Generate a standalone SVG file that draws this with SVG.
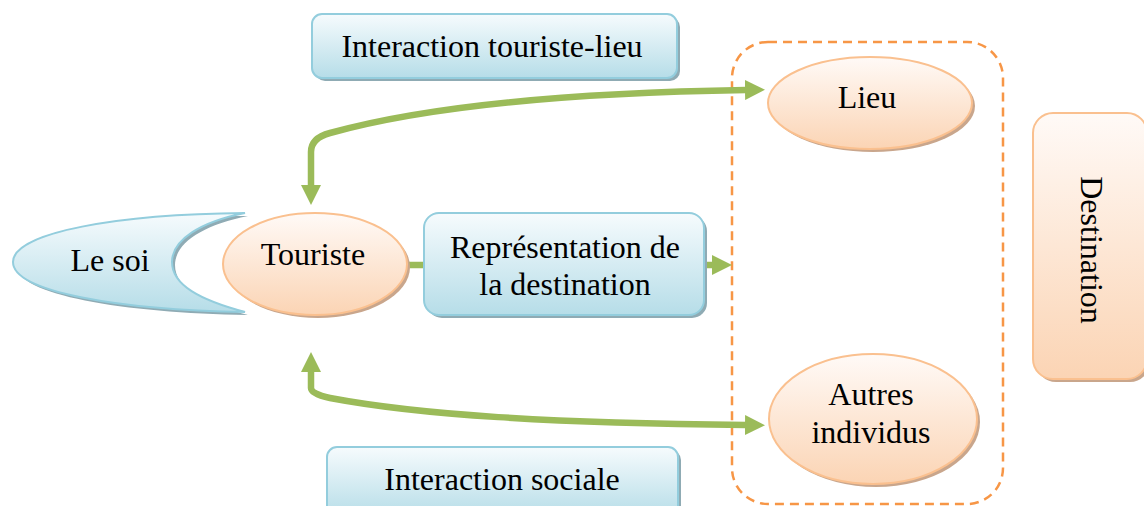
<svg xmlns="http://www.w3.org/2000/svg" width="1144" height="506" viewBox="0 0 1144 506">
<style>
.t{font-family:"Liberation Serif","Times New Roman",serif;font-size:32px;fill:#000;text-anchor:middle}
.bl{fill:url(#gb);stroke:#93CDDD;stroke-width:2}
.bs{fill:#8FABB4}
.or{fill:url(#go);stroke:#FAC08F;stroke-width:2}
.os{fill:#C9A68C}
.cn{fill:none;stroke:#9BBB59;stroke-width:6.5}
</style>
<defs>
<linearGradient id="gb" x1="0" y1="0" x2="0" y2="1"><stop offset="0" stop-color="#F6FBFD"/><stop offset="1" stop-color="#B6DDE8"/></linearGradient>
<linearGradient id="go" x1="0" y1="0" x2="0" y2="1"><stop offset="0" stop-color="#FFFAF7"/><stop offset="1" stop-color="#FBD4B4"/></linearGradient>
<marker id="ah" viewBox="0 0 20 20" refX="1" refY="10" markerWidth="20" markerHeight="20" markerUnits="userSpaceOnUse" orient="auto-start-reverse"><path d="M0,0 L20,10 L0,20 Z" fill="#9BBB59"/></marker>
</defs>

<g id="frame">
<rect x="732" y="42" width="271" height="462" rx="36" fill="none" stroke="#F79646" stroke-width="2.5" stroke-dasharray="9,6"/>
</g>

<g id="connectors">
<path class="cn" d="M311,186 L311,152 Q311,138 330,133 C420,108 550,93 746,90" marker-start="url(#ah)" marker-end="url(#ah)"/>
<path class="cn" d="M311,371 L311,388 Q311,394 330,398 C420,415 550,423 746,425" marker-start="url(#ah)" marker-end="url(#ah)"/>
<path class="cn" d="M400,265 L713,265" marker-end="url(#ah)"/>
</g>

<g id="n-interaction-lieu">
<rect class="bs" x="315" y="17" width="365" height="64" rx="10"/>
<rect class="bl" x="312" y="14" width="365" height="64" rx="10"/>
<text class="t" x="492" y="57">Interaction touriste-lieu</text>
</g>

<g id="n-soi">
<path class="bs" transform="translate(3,3)" d="M245,213 C120,214 13,232 13,262 C13,292 120,310 245,312 C200,300 172,285 172,262 C172,240 200,222 245,213 Z"/>
<path class="bl" d="M245,213 C120,214 13,232 13,262 C13,292 120,310 245,312 C200,300 172,285 172,262 C172,240 200,222 245,213 Z"/>
<text class="t" x="110" y="271">Le soi</text>
</g>

<g id="n-touriste">
<ellipse class="os" cx="318" cy="267" rx="92" ry="51"/>
<ellipse class="or" cx="315" cy="264" rx="92" ry="51"/>
<text class="t" x="313" y="265">Touriste</text>
</g>

<g id="n-representation">
<rect class="bs" x="427" y="216" width="280" height="102" rx="15"/>
<rect class="bl" x="424" y="213" width="280" height="102" rx="15"/>
<text class="t" x="565" y="258">Représentation de</text>
<text class="t" x="565" y="295">la destination</text>
</g>

<g id="n-lieu">
<ellipse class="os" cx="873" cy="106" rx="102" ry="46"/>
<ellipse class="or" cx="870" cy="103" rx="102" ry="46"/>
<text class="t" x="867" y="108">Lieu</text>
</g>

<g id="n-autres">
<ellipse class="os" cx="876" cy="422" rx="104" ry="65"/>
<ellipse class="or" cx="873" cy="419" rx="104" ry="65"/>
<text class="t" x="871" y="405">Autres</text>
<text class="t" x="871" y="443">individus</text>
</g>

<g id="n-destination">
<rect class="os" x="1036" y="116" width="114" height="266" rx="20"/>
<rect class="or" x="1033" y="113" width="114" height="266" rx="20"/>
<text class="t" transform="translate(1081,250) rotate(90)">Destination</text>
</g>

<g id="n-interaction-sociale">
<rect class="bs" x="330" y="450" width="351" height="70" rx="10"/>
<rect class="bl" x="327" y="447" width="351" height="70" rx="10"/>
<text class="t" x="502" y="490">Interaction sociale</text>
</g>
</svg>
